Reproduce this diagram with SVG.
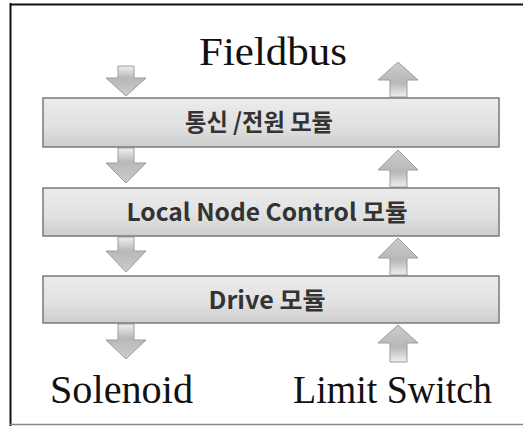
<svg xmlns="http://www.w3.org/2000/svg" width="523" height="426" viewBox="0 0 523 426">
<defs>
<linearGradient id="boxg" x1="0" y1="0" x2="0" y2="1">
<stop offset="0" stop-color="#ececec"/>
<stop offset="0.6" stop-color="#e0e0e0"/>
<stop offset="1" stop-color="#cdcdcd"/>
</linearGradient>
<linearGradient id="downg" x1="0" y1="0" x2="0" y2="1">
<stop offset="0" stop-color="#f0f0f0"/>
<stop offset="0.4" stop-color="#b8b8b8"/>
<stop offset="1" stop-color="#cccccc"/>
</linearGradient>
<linearGradient id="upg" x1="0" y1="1" x2="0" y2="0">
<stop offset="0" stop-color="#f0f0f0"/>
<stop offset="0.4" stop-color="#b8b8b8"/>
<stop offset="1" stop-color="#cccccc"/>
</linearGradient>
<style>
.box{fill:url(#boxg);stroke:#7a7a7a;stroke-width:1.5}
.lbl{font-family:"Noto Sans CJK KR","Noto Sans",sans-serif;font-weight:bold;font-size:24px;fill:#333;text-anchor:middle}
.big{font-family:"Liberation Serif","Times New Roman",serif;font-size:39px;fill:#111}
.dn{fill:url(#downg);stroke:#9c9c9c;stroke-width:1}
.up{fill:url(#upg);stroke:#9c9c9c;stroke-width:1}
</style>
</defs>
<rect x="0" y="0" width="523" height="426" fill="#fff"/>
<g id="frame" fill="none">
<line x1="10.5" y1="3" x2="10.5" y2="426" stroke="#111" stroke-width="2"/>
<line x1="10" y1="4.5" x2="523" y2="4.5" stroke="#111" stroke-width="2"/>
<line x1="10" y1="424.5" x2="523" y2="424.5" stroke="#888" stroke-width="1.5"/>
</g>
<g id="connectors">
<path class="dn" d="M118,66 H134 V78 H146 L126,96 L106,78 H118 Z"/>
<path class="dn" d="M118,148 H134 V163 H146 L126,183 L106,163 H118 Z"/>
<path class="dn" d="M118,237 H134 V251 H146 L126,272 L106,251 H118 Z"/>
<path class="dn" d="M118,324 H134 V340 H146 L126,359 L106,340 H118 Z"/>
<path class="up" d="M390,97 V80 H378 L398,62 L418,80 H407 V97 Z"/>
<path class="up" d="M390,187 V170 H378 L398,150 L418,170 H407 V187 Z"/>
<path class="up" d="M390,275 V258 H378 L398,238 L418,258 H407 V275 Z"/>
<path class="up" d="M390,362 V343 H378 L398,325 L418,343 H407 V362 Z"/>
</g>
<g id="fieldbus"><text class="big" x="199" y="65" font-size="41" textLength="148" lengthAdjust="spacingAndGlyphs">Fieldbus</text></g>
<g id="comm-power">
<rect class="box" x="43" y="98" width="456" height="49"/>
<text class="lbl" x="259" y="131" textLength="148" lengthAdjust="spacingAndGlyphs">통신 /전원 모듈</text>
</g>
<g id="local-node">
<rect class="box" x="43" y="188" width="456" height="48"/>
<text class="lbl" x="267" y="221" textLength="281" lengthAdjust="spacingAndGlyphs">Local Node Control 모듈</text>
</g>
<g id="drive">
<rect class="box" x="43" y="276" width="456" height="47"/>
<text class="lbl" x="267" y="309" textLength="117" lengthAdjust="spacingAndGlyphs">Drive 모듈</text>
</g>
<g id="solenoid"><text class="big" x="50" y="403" textLength="143" lengthAdjust="spacingAndGlyphs">Solenoid</text></g>
<g id="limit-switch"><text class="big" x="293" y="403" textLength="199" lengthAdjust="spacingAndGlyphs">Limit Switch</text></g>
</svg>
